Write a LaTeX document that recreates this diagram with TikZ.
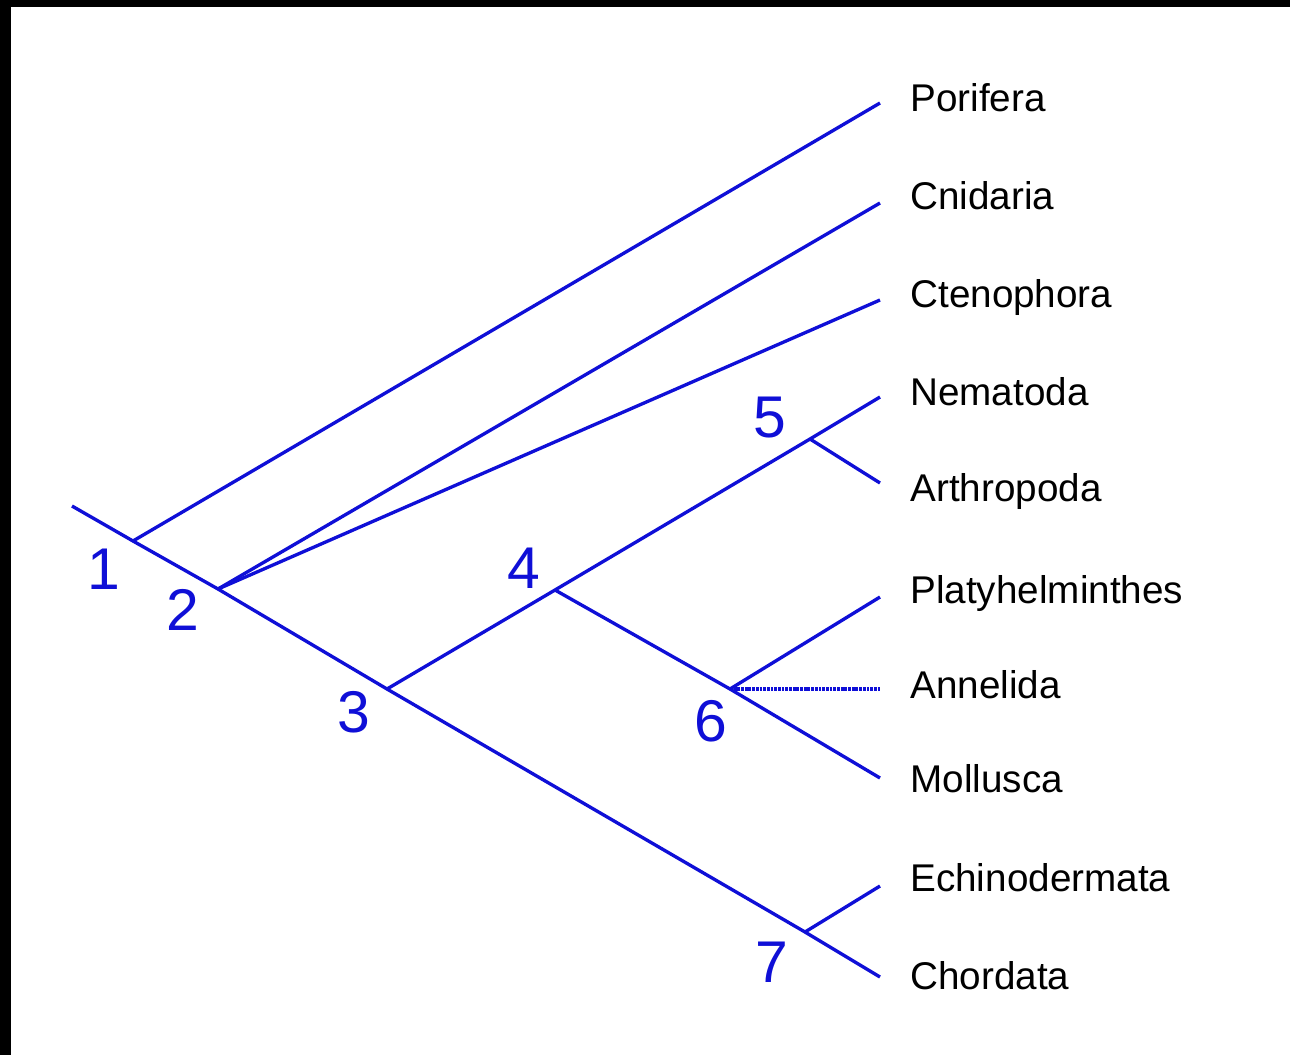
\documentclass[tikz,border=0pt]{standalone}
\usepackage{fontspec}
\setmainfont{Liberation Sans}
\usetikzlibrary{positioning}
\definecolor{treeblue}{RGB}{15,15,215}

\begin{document}
\begin{tikzpicture}[x=0.02cm,y=-0.02cm,
  branch/.style={treeblue,line width=1.9pt},
  taxon/.style={anchor=base west,inner sep=0pt,font=\fontsize{22pt}{26pt}\selectfont},
  cladenum/.style={text=treeblue,inner sep=0pt,font=\fontsize{33.5pt}{40pt}\selectfont}]
% Frame
\fill[black] (0,0) rectangle (1290,1055);
\fill[white] (11,7) rectangle (1290,1055);
\useasboundingbox (0,0) rectangle (1290,1055);
% Branch points
\coordinate (root) at (72,506);
\coordinate (n1) at (133,541);
\coordinate (n2) at (218,589);
\coordinate (n3) at (387,689);
\coordinate (n4) at (555,590);
\coordinate (n5) at (810,439);
\coordinate (n6) at (730,689);
\coordinate (n7) at (805,932);
% Tips and taxa
\foreach \n/\y/\b/\t in {por/103/111/Porifera, cni/203/209/Cnidaria, cte/300/307/Ctenophora,
  nem/397/405/Nematoda, art/483/501/Arthropoda, pla/597/603/Platyhelminthes,
  ann/689/698/Annelida, mol/778/792/Mollusca, ech/886/891/Echinodermata, cho/977/989/Chordata}
  {\coordinate (\n) at (880,\y);
   \node[taxon] (\n-name) at (910,\b) {\t};}
% Clade numbers
\node[cladenum] (l1) at (104,569) {1};
\node[cladenum] (l2) at (183,610) {2};
\node[cladenum] (l3) at (354,712) {3};
\node[cladenum] (l4) at (524,568) {4};
\node[cladenum] (l5) at (770,418) {5};
\node[cladenum] (l6) at (711,721) {6};
\node[cladenum] (l7) at (772,962) {7};
% Trunk
\draw[branch] (root) -- (n1) -- (n2) -- (n3) -- (n7) -- (cho);
% Side branches
\draw[branch] (n1) -- (por);
\draw[branch] (n2) -- (cni);
\draw[branch] (n2) -- (cte);
\draw[branch] (n3) -- (n4) -- (n5) -- (nem);
\draw[branch] (n5) -- (art);
\draw[branch] (n4) -- (n6) -- (mol);
\draw[branch] (n6) -- (pla);
\draw[branch,line width=2.4pt,dash pattern=on 1.6pt off 0.5pt] (n6) -- (ann);
\draw[branch] (n7) -- (ech);
\end{tikzpicture}
\end{document}
